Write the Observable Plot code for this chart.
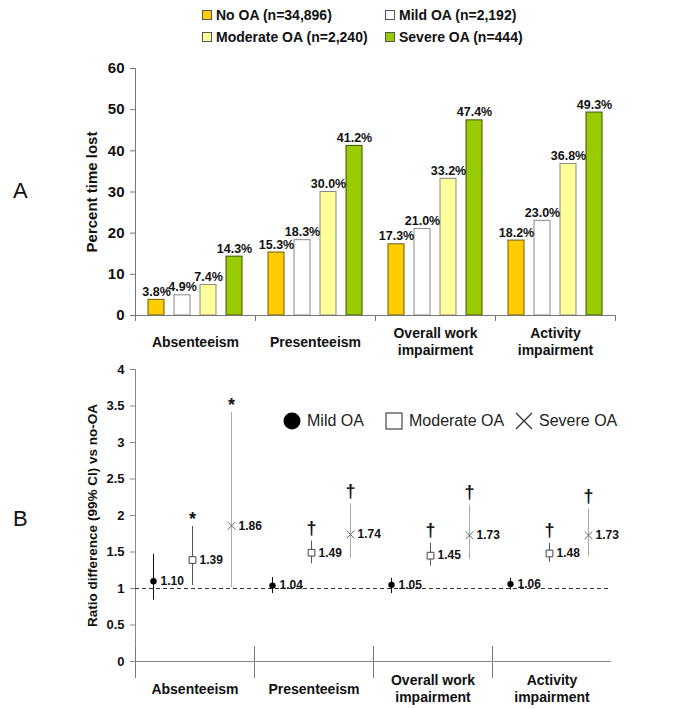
<!DOCTYPE html>
<html><head><meta charset="utf-8">
<script src="https://cdn.jsdelivr.net/npm/d3@7"></script>
<script src="https://cdn.jsdelivr.net/npm/@observablehq/plot@0.6"></script>
<style>
body{margin:0;background:#fff;font-family:Arial,"Liberation Sans",Helvetica,sans-serif;}
#wrap{position:relative;width:685px;height:709px;overflow:hidden;background:#fff;}
.leg{position:absolute;font-weight:bold;font-size:14px;color:#111;display:flex;align-items:center;white-space:nowrap;height:16px;}
.sw{display:inline-block;width:8px;height:8px;border:1px solid #555;margin-right:4px;}
.panel{position:absolute;font-size:22px;color:#111;line-height:1;}
.legB{position:absolute;font-size:16px;color:#222;display:flex;align-items:center;white-space:nowrap;height:20px;}
.legB svg{margin-right:6px;}
.plotbox{position:absolute;left:0;}
</style></head>
<body><div id="wrap"></div>
<script>
// ---------- data ----------
const measures = ["Absenteeism", "Presenteeism", "Overall work\nimpairment", "Activity\nimpairment"];
const groups = ["No OA", "Mild OA", "Moderate OA", "Severe OA"];
const groupCounts = ["34,896", "2,192", "2,240", "444"];
const groupColors = ["#FFCC00", "#FFFFFF", "#FFFF99", "#99CC00"];
const groupStrokes = ["#6b5a10", "#888888", "#888888", "#3d5200"];

const pctNoOA = [3.8, 15.3, 17.3, 18.2];
const pctMild = [4.9, 18.3, 21.0, 23.0];
const pctModerate = [7.4, 30.0, 33.2, 36.8];
const pctSevere = [14.3, 41.2, 47.4, 49.3];
const yTicksA = [0, 10, 20, 30, 40, 50, 60];

const ratioGroups = ["Mild OA", "Moderate OA", "Severe OA"];
const ratioMild = [1.10, 1.04, 1.05, 1.06];
const ratioMildLo = [0.84, 0.93, 0.93, 0.98];
const ratioMildHi = [1.47, 1.15, 1.14, 1.14];
const ratioModerate = [1.39, 1.49, 1.45, 1.48];
const ratioModerateLo = [1.04, 1.34, 1.31, 1.36];
const ratioModerateHi = [1.85, 1.65, 1.62, 1.62];
const ratioSevere = [1.86, 1.74, 1.73, 1.73];
const ratioSevereLo = [1.01, 1.41, 1.40, 1.43];
const ratioSevereHi = [3.41, 2.16, 2.14, 2.09];
const sigMild = ["", "", "", ""];
const sigModerate = ["*", "†", "†", "†"];
const sigSevere = ["*", "†", "†", "†"];
const yTicksB = [0, 0.5, 1, 1.5, 2, 2.5, 3, 3.5, 4];
const ciStrokes = ["#111111", "#555555", "#a8a8a8"];

// ---------- tables ----------
const pctSeries = [pctNoOA, pctMild, pctModerate, pctSevere];
const rowsA = measures.flatMap((m, i) => groups.map((g, j) => ({measure: m, group: g, value: pctSeries[j][i]})));
const ratioSeries = [
  [ratioMild, ratioMildLo, ratioMildHi, sigMild],
  [ratioModerate, ratioModerateLo, ratioModerateHi, sigModerate],
  [ratioSevere, ratioSevereLo, ratioSevereHi, sigSevere]
];
const rowsB = measures.flatMap((m, i) => ratioGroups.map((g, j) => ({
  measure: m, group: g, value: ratioSeries[j][0][i], lo: ratioSeries[j][1][i], hi: ratioSeries[j][2][i], sig: ratioSeries[j][3][i]
})));

const wrap = document.getElementById("wrap");
const FONT = "Arial, 'Liberation Sans', Helvetica, sans-serif";

// ---------- top legend ----------
const legendPos = [[202, 15], [385, 15], [202, 37], [385, 37]];
groups.forEach((g, i) => {
  const el = document.createElement("div");
  el.className = "leg";
  el.style.left = legendPos[i][0] + "px";
  el.style.top = (legendPos[i][1] - 8) + "px";
  el.innerHTML = `<span class="sw" style="background:${groupColors[i]}"></span><span>${g} (n=${groupCounts[i]})</span>`;
  wrap.appendChild(el);
});

// panel letters
[["A", 13, 180], ["B", 13, 508]].forEach(([t, x, y]) => {
  const el = document.createElement("div");
  el.className = "panel"; el.textContent = t;
  el.style.left = x + "px"; el.style.top = y + "px";
  wrap.appendChild(el);
});

// ---------- Panel A ----------
const PA = 247;
const plotA = Plot.plot({
  width: 685, height: 310, marginTop: 18, marginRight: 69, marginBottom: 45, marginLeft: 133,
  style: {fontFamily: FONT, fontWeight: "bold", fontSize: "12px", color: "#111", background: "transparent", overflow: "visible"},
  fx: {domain: measures, padding: 0, axis: null},
  x: {domain: groups, paddingInner: 0.37, paddingOuter: 0.44, axis: null},
  y: {domain: [0, 60], axis: null},
  color: {domain: groups, range: groupColors},
  marks: [
    Plot.frame({anchor: "left", facetAnchor: "left", stroke: "#777", insetBottom: -5}),
    Plot.frame({anchor: "right", stroke: "#777", insetTop: PA, insetBottom: -5}),
    Plot.barY(rowsA, {fx: "measure", x: "group", y: "value", fill: "group",
      stroke: d => groupStrokes[groups.indexOf(d.group)], strokeWidth: 1}),
    Plot.ruleY([0], {stroke: "#777"}),
    Plot.text(rowsA, {fx: "measure", x: "group", y: "value", text: d => d.value.toFixed(1) + "%", dy: -8, fontSize: 12.5, fill: "#111"}),
    Plot.axisY({ticks: yTicksA, tickSize: 5, tickPadding: 6, fontSize: 15, stroke: "#777", fill: "#111", label: null}),
    Plot.text(["Percent time lost"], {frameAnchor: "left", textAnchor: "middle", rotate: -90, dx: -43, fontSize: 15, facetAnchor: "left", fill: "#111"}),
    Plot.text(measures, {fx: d => d, text: d => d, frameAnchor: "bottom", dy: 26, lineAnchor: "middle", lineHeight: 1.2, fontSize: 14, fill: "#111"})
  ]
});
plotA.classList.add("plotbox");
plotA.style.top = "50px";
wrap.appendChild(plotA);

// ---------- Panel B ----------
const PB = 292;
const plotB = Plot.plot({
  width: 685, height: 354, marginTop: 14, marginRight: 73, marginBottom: 48, marginLeft: 133,
  style: {fontFamily: FONT, fontWeight: "bold", fontSize: "12px", color: "#111", background: "transparent", overflow: "visible"},
  fx: {domain: measures, padding: 0, axis: null},
  x: {type: "point", domain: ratioGroups, padding: 0.5, align: 0.45, axis: null},
  y: {domain: [0, 4], axis: null},
  marks: [
    Plot.frame({anchor: "left", facetAnchor: "left", stroke: "#888"}),
    Plot.frame({anchor: "left", stroke: "#777", insetTop: PB - 15, insetBottom: -16}),
    Plot.ruleY([0], {stroke: "#888"}),
    Plot.ruleY([1], {stroke: "#333", strokeDasharray: "4,3"}),
    ...ratioGroups.map((g, j) => Plot.ruleX(rowsB.filter(d => d.group === g),
      {fx: "measure", x: "group", y1: "lo", y2: "hi", stroke: ciStrokes[j], strokeWidth: 1})),
    Plot.dot(rowsB.filter(d => d.group === ratioGroups[0]), {fx: "measure", x: "group", y: "value", symbol: "circle", r: 3.2, fill: "#000"}),
    Plot.dot(rowsB.filter(d => d.group === ratioGroups[1]), {fx: "measure", x: "group", y: "value", symbol: "square", r: 3.8, fill: "#fff", stroke: "#444", strokeWidth: 1}),
    Plot.dot(rowsB.filter(d => d.group === ratioGroups[2]), {fx: "measure", x: "group", y: "value", symbol: "times", r: 3.6, stroke: "#666", strokeWidth: 1}),
    Plot.text(rowsB, {fx: "measure", x: "group", y: "value", text: d => d.value.toFixed(2), dx: 7, textAnchor: "start", fontSize: 12, fill: "#111"}),
    Plot.text(rowsB.filter(d => d.sig === "*"), {fx: "measure", x: "group", y: "hi", text: "sig", dy: -7, fontSize: 18, fill: "#111"}),
    Plot.text(rowsB.filter(d => d.sig === "†"), {fx: "measure", x: "group", y: "hi", text: "sig", dy: -13, fontSize: 18, fill: "#111"}),
    Plot.axisY({ticks: yTicksB, tickFormat: d => String(d), tickSize: 5, tickPadding: 6, fontSize: 13, stroke: "#888", fill: "#111", label: null}),
    Plot.text(["Ratio difference (99% CI) vs no-OA"], {frameAnchor: "left", textAnchor: "middle", rotate: -90, dx: -43, fontSize: 13.5, facetAnchor: "left", fill: "#111"}),
    Plot.text(measures, {fx: d => d, text: d => d, frameAnchor: "bottom", dy: 27, lineAnchor: "middle", lineHeight: 1.2, fontSize: 14, fill: "#111"})
  ]
});
plotB.classList.add("plotbox");
plotB.style.top = "355px";
wrap.appendChild(plotB);

// ---------- Panel B legend ----------
const legBSymbols = [
  `<svg width="18" height="18"><circle cx="9" cy="9" r="8.5" fill="#000"/></svg>`,
  `<svg width="18" height="18"><rect x="1" y="1" width="16" height="16" fill="#fff" stroke="#444" stroke-width="1.2"/></svg>`,
  `<svg width="18" height="18"><path d="M1,1L17,17M17,1L1,17" stroke="#333" stroke-width="1.3"/></svg>`
];
const legBPos = [283, 385, 515];
ratioGroups.forEach((g, i) => {
  const el = document.createElement("div");
  el.className = "legB";
  el.style.left = legBPos[i] + "px";
  el.style.top = "411px";
  el.innerHTML = legBSymbols[i] + `<span>${g}</span>`;
  wrap.appendChild(el);
});
</script></body></html>
